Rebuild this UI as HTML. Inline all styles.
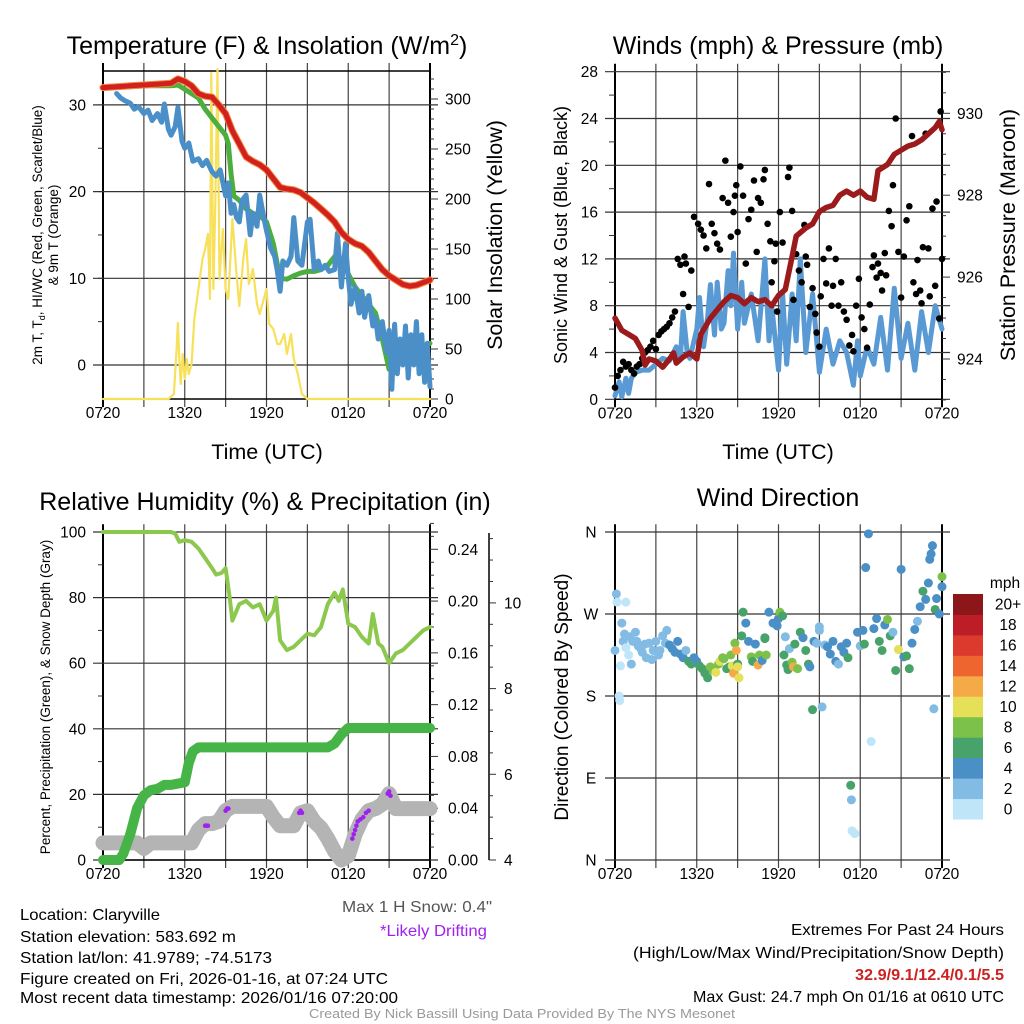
<!DOCTYPE html>
<html><head><meta charset="utf-8"><style>
html,body{margin:0;padding:0;background:#fff;}
svg{display:block;font-family:"Liberation Sans",sans-serif;}
</style></head><body>
<svg id="fig" width="1024" height="1024" viewBox="0 0 1024 1024" xmlns="http://www.w3.org/2000/svg">
<rect x="0" y="0" width="1024" height="1024" fill="#fff"/>
<g font-size="25" text-anchor="middle" fill="#000">
<text x="267" y="54">Temperature (F) &amp; Insolation (W/m<tspan dy="-9" font-size="16">2</tspan><tspan dy="9">)</tspan></text>
<text x="778" y="54">Winds (mph) &amp; Pressure (mb)</text>
<text x="265" y="510">Relative Humidity (%) &amp; Precipitation (in)</text>
<text x="778" y="506">Wind Direction</text>
</g>
<g fill="#000" text-anchor="middle">
<text x="267" y="459" font-size="21.5">Time (UTC)</text>
<text x="778" y="459" font-size="21.5">Time (UTC)</text>
<text transform="translate(42,235) rotate(-90)" font-size="13.5">2m T, T<tspan dy="3" font-size="9">d</tspan><tspan dy="-3">, HI/WC (Red, Green, Scarlet/Blue)</tspan></text>
<text transform="translate(58,235) rotate(-90)" font-size="13.5">&amp; 9m T (Orange)</text>
<text transform="translate(502,235) rotate(-90)" font-size="21.5">Solar Insolation (Yellow)</text>
<text transform="translate(567,235) rotate(-90)" font-size="18">Sonic Wind &amp; Gust (Blue, Black)</text>
<text transform="translate(1015,235) rotate(-90)" font-size="21.5">Station Pressure (Maroon)</text>
<text transform="translate(50,697) rotate(-90)" font-size="13.5">Percent, Precipitation (Green), &amp; Snow Depth (Gray)</text>
<text transform="translate(568,697) rotate(-90)" font-size="19">Direction (Colored By Speed)</text>
</g>
<g font-size="16" fill="#000" lengthAdjust="spacingAndGlyphs">
<text x="20" y="920" textLength="140" lengthAdjust="spacingAndGlyphs">Location: Claryville</text>
<text x="20" y="942" textLength="216" lengthAdjust="spacingAndGlyphs">Station elevation: 583.692 m</text>
<text x="20" y="963" textLength="252" lengthAdjust="spacingAndGlyphs">Station lat/lon: 41.9789; -74.5173</text>
<text x="20" y="984" textLength="368" lengthAdjust="spacingAndGlyphs">Figure created on Fri, 2026-01-16, at 07:24 UTC</text>
<text x="20" y="1003" textLength="378" lengthAdjust="spacingAndGlyphs">Most recent data timestamp: 2026/01/16 07:20:00</text>
<text x="342" y="912" fill="#555" textLength="150" lengthAdjust="spacingAndGlyphs">Max 1 H Snow: 0.4"</text>
<text x="380" y="936" fill="#a020f0" textLength="107" lengthAdjust="spacingAndGlyphs">*Likely Drifting</text>
<text x="791" y="935" textLength="213" lengthAdjust="spacingAndGlyphs">Extremes For Past 24 Hours</text>
<text x="633" y="958" textLength="371" lengthAdjust="spacingAndGlyphs">(High/Low/Max Wind/Precipitation/Snow Depth)</text>
<text x="855" y="980" fill="#cc2222" font-weight="bold" textLength="149" lengthAdjust="spacingAndGlyphs">32.9/9.1/12.4/0.1/5.5</text>
<text x="693" y="1002" textLength="311" lengthAdjust="spacingAndGlyphs">Max Gust: 24.7 mph On 01/16 at 0610 UTC</text>
<text x="309" y="1018" font-size="13" fill="#999" textLength="426" lengthAdjust="spacingAndGlyphs">Created By Nick Bassill Using Data Provided By The NYS Mesonet</text>
</g>
</svg>
<script>
// ---------- DATA ----------
const timeTickLabels = ["0720","1320","1920","0120","0720"];
const tempTickLabels = ["0","10","20","30"];
const tempTickValues = [0,10,20,30];
const solarTickValues = [0,50,100,150,200,250,300];
const windTickValues = [0,4,8,12,16,20,24,28];
const pressureTickValues = [924,926,928,930];
const rhTickValues = [0,20,40,60,80,100];
const precipTickValues = [0,0.04,0.08,0.12,0.16,0.20,0.24];
const snowTickValues = [4,6,8,10];
const dirTickLabels = ["N","E","S","W","N"];
const dirTickValues = [0,90,180,270,360];
const speedBinLabels = ["0","2","4","6","8","10","12","14","16","18","20+"];
const speedBinColors = ["#bfe5f9","#82bbe4","#4a8fc6","#48a36a","#7cc24a","#e6df58","#f5aa48","#ee6530","#dd3a2e","#bd1d27","#8d1619"];

const airTemp = [[0,32],[1,32.1],[2,32.2],[3,32.3],[4,32.4],[5,32.5],[5.5,33],[6,32.7],[6.5,32.2],[7,31.3],[7.5,31],[8,30.9],[8.5,30],[9,29],[9.5,27],[10,25.5],[10.5,24],[11,23.5],[11.5,23.1],[12,22.5],[12.5,21.5],[13,20.5],[13.5,20.3],[14,20.2],[14.5,19.9],[15,19.3],[15.5,18.7],[16,18],[16.5,17.3],[17,16.5],[17.5,15.3],[18,14.5],[18.5,14],[19,13.7],[19.5,13],[20,12],[20.5,11],[21,10.3],[21.5,9.8],[22,9.3],[22.5,9.1],[23,9.2],[23.5,9.5],[24,9.8]];
const dewPoint = [[0,32],[1,32.1],[2,32.1],[3,32.2],[4,32.2],[5,32.2],[5.5,32.3],[6,31.8],[6.5,31.3],[7,30.8],[7.5,29.5],[8,28.5],[8.5,27.5],[9,26.5],[9.2,25.5],[9.4,22],[9.6,19.5],[10,19],[10.5,18],[11,17.5],[11.5,17.2],[12,16.5],[12.5,14],[13,10],[13.5,9.9],[14,10.3],[14.5,10.6],[15,10.8],[15.5,10.8],[16,11],[16.5,11.5],[17,12.5],[17.5,12],[18,10.5],[18.5,9],[19,8],[19.5,7],[20,6],[20.5,3],[21,-0.5],[21.5,0.5],[22,1],[22.5,1.5],[23,1.5],[23.5,2],[24,2.5]];
const windChill = [[1,31.3],[1.3,30.8],[1.6,30.5],[2,30.2],[2.3,29.5],[2.6,29.8],[3,29],[3.3,29.4],[3.6,28.2],[4,29],[4.3,28],[4.5,30.1],[4.8,27.2],[5,26.5],[5.3,27.5],[5.5,29.7],[5.8,25.8],[6,25],[6.3,25.6],[6.6,23.5],[7,23.8],[7.3,23],[7.6,23.6],[8,22.3],[8.3,21.8],[8.6,22.5],[9,19.5],[9.2,21],[9.4,17.5],[9.6,18.5],[9.8,17],[10,16.5],[10.2,19],[10.5,19.6],[10.8,15],[11,17.5],[11.3,16],[11.5,19.6],[11.8,17],[12,15.5],[12.3,13.5],[12.6,12.5],[12.8,10.8],[13,8.5],[13.2,12],[13.5,11.5],[13.8,12.5],[14,17],[14.3,12],[14.6,11.5],[15,16.5],[15.2,16.8],[15.5,11],[15.8,12],[16,11],[16.3,11.5],[16.6,10.8],[17,11],[17.2,15.2],[17.5,9],[17.8,14],[18,10],[18.2,7],[18.5,9],[18.8,6],[19,8.5],[19.2,5.5],[19.5,8],[19.8,4.5],[20,5.5],[20.2,3],[20.5,5],[20.8,1.5],[21,4],[21.2,-2.8],[21.4,4.7],[21.6,-1],[21.8,3],[22,0],[22.2,4.5],[22.4,-1.5],[22.6,3.5],[22.8,0],[23,5],[23.2,-1],[23.4,3.5],[23.6,-2],[23.8,2.5],[24,-2.5]];
const solar = [[0,0],[4.8,0],[5.2,5],[5.4,50],[5.5,76],[5.6,40],[5.7,15],[5.85,45],[6,20],[6.15,40],[6.3,25],[6.5,35],[6.7,80],[7,110],[7.3,140],[7.5,150],[7.7,165],[7.85,100],[7.95,326],[8.1,110],[8.25,200],[8.4,330],[8.55,120],[8.8,170],[9,110],[9.2,100],[9.5,180],[9.8,125],[10,93],[10.3,140],[10.5,160],[10.7,115],[11,130],[11.3,95],[11.5,85],[11.8,100],[12,110],[12.2,75],[12.5,70],[12.8,55],[13,55],[13.3,65],[13.5,45],[13.8,65],[14,40],[14.3,25],[14.6,5],[15,0],[24,0]];

const pressure = [[0,925],[0.5,924.7],[1,924.6],[1.5,924.5],[2,924.2],[2.2,923.85],[2.5,924],[3,923.95],[3.5,923.8],[4,924],[4.3,924.15],[4.5,923.9],[5,924.05],[5.5,924.15],[6,924],[6.3,924.6],[7,925],[7.5,925.2],[8,925.4],[8.5,925.55],[9,925.5],[9.5,925.35],[10,925.5],[10.5,925.4],[11,925.45],[11.5,925.3],[12,925.55],[12.5,925.7],[13,926.5],[13.3,927],[14,927.2],[14.5,927.3],[15,927.6],[15.5,927.7],[16,927.75],[16.5,928],[17,928.1],[17.5,928],[18,928.1],[18.5,927.95],[19,927.9],[19.3,928.6],[20,928.75],[20.5,929],[21,929.1],[21.5,929.2],[22,929.25],[22.5,929.35],[23,929.5],[23.5,929.65],[23.8,929.8],[24,929.6]];
const sustainedWind = [[0,0.3],[0.3,1.5],[0.5,0.2],[0.8,1.8],[1,0.5],[1.2,1.8],[1.5,2.3],[2,2.5],[2.5,2.5],[3,3],[3.5,3.5],[4,3.3],[4.5,4.5],[4.8,3.5],[5,7.5],[5.3,4],[5.5,3.5],[5.8,5],[6,6],[6.2,8.7],[6.5,4.5],[6.8,7],[7,9.8],[7.3,5.5],[7.5,10],[7.8,6],[8,6.5],[8.3,11],[8.5,8],[8.7,12.5],[9,6],[9.3,10],[9.5,6.5],[10,9],[10.5,5],[10.8,9],[11,12],[11.3,5],[11.5,8],[12,2.5],[12.3,9],[12.6,3],[13,9],[13.3,5],[13.6,12],[14,4],[14.5,9],[15,2.3],[15.5,6],[16,3],[16.5,5],[17,4],[17.5,1.2],[17.8,5],[18,2],[18.5,4.5],[19,3],[19.5,7],[20,2.5],[20.5,9.5],[21,3.5],[21.5,6.5],[22,2.5],[22.5,7.5],[23,4],[23.5,8],[24,6]];
const gustHours = [0,0.2,0.4,0.6,0.8,1,1.2,1.4,1.6,1.8,2,2.2,2.4,2.6,2.8,3,3.2,3.4,3.6,3.8,4,4.2,4.4,4.6,4.8,5,5.1,5.2,5.4,5.6,5.8,6.1,6.3,6.5,6.7,6.9,7.1,7.3,7.5,7.7,7.9,8.1,8.3,8.5,8.7,8.8,8.9,9,9.2,9.4,9.6,9.8,10,10.2,10.4,10.5,10.7,10.9,11,11.2,11.4,11.5,11.7,11.8,11.9,12.1,12.3,12.7,12.8,13,13.1,13.3,13.5,13.7,13.9,14,14.1,14.3,14.5,14.7,14.8,15,15.1,15.3,15.5,15.7,15.9,16,16.2,16.4,16.6,16.8,17,17.2,17.4,17.5,17.7,17.9,18.1,18.3,18.5,18.7,18.9,19,19.2,19.3,19.5,19.6,19.8,19.9,20.1,20.3,20.4,20.6,20.8,21,21.2,21.4,21.6,21.8,21.9,22.1,22.2,22.4,22.5,22.6,22.8,23,23.1,23.3,23.5,23.6,23.8,23.9,24];
const gustValues = [1,2,2.5,3.2,2.8,3,2.5,2.2,2.8,3,3.5,4,4.2,4.5,5,4.3,5.5,5.8,6,6.2,6.5,7,7.5,12,11.5,9,12.2,11.6,7.9,11,15.6,15,14.5,14,12.9,18.4,15,14.2,13.3,12.8,17.2,20.4,16.8,13.9,16,17.4,18.3,14.3,19.9,17.4,11.6,15.4,16.2,18.7,12.6,17.2,16.8,18.8,19.6,15,13.5,10,11.8,13.3,7.5,16,13.4,19,19.8,16.1,8.5,12.4,11,10,14.9,12.2,11.5,7.9,9.5,7.3,5.7,4.5,8.8,12,9.9,12.9,8,9.7,12,8,10,7.5,6.8,4.6,5.5,4.1,8,10.3,7,6,4.4,8.1,11.3,12.3,10.4,11.6,10.8,9.3,12.5,10.6,16.1,14.8,18.3,24,12.6,8.7,12.2,15.3,16.5,22.5,10,9,11.9,9.3,8.2,13,22.7,12.9,8.8,16.3,9.7,16.9,6.9,24.6,12,11.3,14.4,12.7,16.9,10.6,16.3,20,12.4];

const relHumidity = [[0,100],[1,100],[2,100],[3,100],[4,100],[5,100],[5.3,99.5],[5.6,97],[6,97.5],[6.5,97],[7,95],[7.5,92],[8,89],[8.3,87],[8.7,87.5],[9,89],[9.3,80],[9.5,73],[10,78],[10.5,79],[11,77],[11.5,78],[12,73],[12.5,76],[12.7,80],[13,67],[13.5,64],[14,65],[14.5,67],[15,69],[15.5,68.5],[16,71],[16.5,78],[17,81.5],[17.3,79],[17.6,82.5],[18,72],[18.5,71],[19,68],[19.5,66],[19.8,75],[20.2,66],[20.5,65],[21,60],[21.5,63],[22,64],[22.5,66],[23,68],[23.5,70],[24,71]];
const precipitation = [[0,0],[1.2,0],[1.5,0.005],[2,0.02],[2.5,0.04],[3,0.05],[3.5,0.054],[4,0.055],[4.5,0.058],[5,0.058],[6,0.06],[6.3,0.075],[6.6,0.084],[7,0.087],[16.5,0.087],[17,0.09],[17.5,0.097],[18,0.102],[24,0.102]];
const snowDepth = [[0,4.4],[2.5,4.4],[3,4.27],[3.5,4.4],[6.5,4.4],[7,4.7],[7.5,4.85],[8,4.85],[8.5,4.9],[9,5.15],[9.5,5.25],[12,5.25],[12.5,5],[13,4.8],[14,4.8],[14.5,5.1],[15,5.15],[15.5,4.9],[16,4.75],[16.5,4.5],[17,4.2],[17.5,4.0],[18,4.1],[18.5,4.6],[19,4.95],[19.5,5.15],[20,5.2],[20.5,5.3],[21,5.55],[21.5,5.2],[24,5.2]];
const driftHours = [7.5,7.6,7.7,9,9.1,9.2,14.4,14.5,14.6,18.3,18.4,18.5,18.6,18.7,18.9,19.1,19.3,19.5,20.9,21,21.1];
const driftValues = [4.8,4.8,4.8,5.15,5.2,5.2,5.1,5.15,5.1,4.5,4.6,4.7,4.8,4.9,4.95,5.0,5.1,5.15,5.55,5.6,5.5];

const dirHours = [0,0.1,0.15,0.3,0.35,0.4,0.5,0.6,0.7,0.8,0.8,1,1.1,1.2,1.3,1.5,1.6,1.7,1.9,2,2.2,2.3,2.5,2.7,2.8,3,3.2,3.3,3.5,3.7,3.8,4,4.2,4.4,4.6,4.8,5,5.2,5.4,5.6,5.8,6,6.2,6.4,6.6,6.8,7,7.2,7.4,7.6,7.7,7.9,8,8.2,8.4,8.5,8.6,8.7,8.8,8.9,9,9,9.1,9.3,9.4,9.6,9.8,10,10.1,10.3,10.5,10.6,10.8,11,11,11.1,11.3,11.6,11.9,12,12.1,12.3,12.4,12.5,12.6,12.7,12.8,13,13.1,13.2,13.4,13.6,13.8,14,14.2,14.3,14.5,14.6,14.8,15,15,15.2,15.4,15.6,15.8,16,16.2,16.4,16.6,16.8,17,17.1,17.3,17.35,17.4,17.6,17.8,18,18.2,18.3,18.4,18.6,18.8,19,19.2,19.4,19.6,19.8,20,20.2,20.4,20.6,20.8,21,21.2,21.4,21.6,21.8,22,22.2,22.4,22.6,22.8,23,23.1,23.2,23.3,23.4,23.5,23.6,23.8,24,24];
const dirDegrees = [230,292,283,180,175,213,260,240,248,233,283,225,245,215,240,250,240,235,232,228,237,222,238,220,230,240,225,230,246,238,252,236,232,228,240,226,222,230,218,215,222,218,213,210,205,200,212,208,206,215,218,222,221,210,212,225,213,205,238,230,215,212,200,246,272,260,240,223,218,237,214,225,219,244,243,225,272,260,257,265,272,268,225,245,214,209,232,217,212,237,210,250,244,230,215,212,165,240,238,256,252,168,236,234,226,240,218,215,234,228,238,222,82,66,32,29,250,235,252,237,321,358,130,254,265,240,230,258,264,246,250,208,231,319,223,224,210,238,253,262,278,295,286,304,330,336,345,166,275,287,270,311,300,277,270];
const dirSpeeds = [2,2,1,1,1,1,2,2,2,1,1,1,2,2,2,2,2,2,2,2,2,2,2,2,2,2,2,2,2,2,2,4,4,4,4,5,5,3,6,6,4,4,6,6,7,7,8,9,10,8,11,9,8,7,7,8,10,13,8,12,7,10,11,7,7,4,5,8,6,5,13,9,5,7,7,8,4,5,4,4,8,6,7,3,6,7,3,9,12,7,8,7,4,6,6,4,6,4,2,2,2,2,3,5,4,4,4,3,4,4,5,7,6,3,1,1,4,2,5,6,4,5,1,4,5,7,6,5,8,7,3,7,10,4,5,7,6,5,4,3,4,6,5,4,4,5,5,3,7,4,4,9,4,4,6,8];

// ---------- HELPERS ----------
const svg = document.getElementById('fig');
const NS = 'http://www.w3.org/2000/svg';
function mk(tag, parent, attrs){
  const e = document.createElementNS(NS, tag);
  for (const k in attrs) e.setAttribute(k, attrs[k]);
  parent.appendChild(e);
  return e;
}
function linePath(pts, xf, yf){
  return pts.map((p,i)=>(i?'L':'M')+xf(p[0]).toFixed(1)+','+yf(p[1]).toFixed(1)).join(' ');
}

const L = {x0:103, x1:430};
const R = {x0:615, x1:942};
const xL = h => L.x0 + h/24*(L.x1-L.x0);
const xR = h => R.x0 + h/24*(R.x1-R.x0);
const yTemp = v => 365 - 8.67*v;
const ySolar = w => 399 - w*1.0;
const yWind = v => 399.3 - 11.7*v;
const yPres = p => 359 - 40.95*(p-924);
const yRH = v => 860 - 3.28*v;
const yPrecip = v => 860 - 1294.6*v;
const ySnow = s => 860 - 42.85*(s-4);
const yDir = d => 860 - 0.9111*d;

function drawFrame(xf, yTop, yBot, panelName){
  const g = mk('g', svg, {});
  
  
  for (let h=0; h<=24; h+=3){
    const ln = mk('line', g, {x1:xf(h), x2:xf(h), y1:yTop-8, y2:yBot+8, stroke:(h===0||h===24)?'#000':'#444', 'stroke-width':(h===0||h===24)?2:1.2});
    
    
  }
  for (let i=0;i<timeTickLabels.length;i++){
    const t = mk('text', g, {x:xf(i*6), y:yBot+19, 'font-size':15.5, 'text-anchor':'middle'});
    t.textContent = timeTickLabels[i];
    
    
  }
  return g;
}
function hGrid(g, panelName, x0, x1, y){
  const ln = mk('line', g, {x1:x0-10, x2:x1+8, y1:y, y2:y, stroke:'#333', 'stroke-width':1.2});
  
  
}
function tickLabel(g, name, x, y, txt, anchor, size){
  const t = mk('text', g, {x:x, y:y+5.5, 'font-size':size||15.5, 'text-anchor':anchor});
  t.textContent = txt;
  
  
}
function tickMark(g, name, x1, x2, y){
  const ln = mk('line', g, {x1:x1, x2:x2, y1:y, y2:y, stroke:'#333', 'stroke-width':1});
  
  
}
function series(parent, name, d, color, width){
  const p = mk('path', parent, {d:d, fill:'none', stroke:color, 'stroke-width':width, 'stroke-linejoin':'round', 'stroke-linecap':'round'});
  
  
  return p;
}

// ---------- PANEL 1: Temperature ----------
{
  const g = drawFrame(xL, 71, 399, 'temperature');
  tempTickValues.forEach((v,i)=>{ hGrid(g,'temperature',L.x0,L.x1,yTemp(v)); tickLabel(g,'temp-y-tick-label',86,yTemp(v),tempTickLabels[i],'end'); });
  for (let v=0; v<=34; v+=5) tickMark(g,'temp-minor-tick',98,103,yTemp(v));
  for (let w=0; w<=320; w+=10) tickMark(g,'solar-minor-tick',430,(w%50===0)?438:434,ySolar(w));
  solarTickValues.forEach(w=> tickLabel(g,'solar-y-tick-label',445,ySolar(w),String(w),'start'));
  const top = mk('line', g, {x1:L.x0, x2:L.x1, y1:71, y2:71, stroke:'#000', 'stroke-width':1.5});
  
  
  const bot = mk('line', g, {x1:L.x0, x2:L.x1, y1:399, y2:399, stroke:'#000', 'stroke-width':1.5});
  
  
  const s = mk('g', svg, {});
  
  
  series(s,'solar-insolation-line',linePath(solar,xL,ySolar),'#f7e05a',2.2);
  series(s,'dew-point-line',linePath(dewPoint,xL,yTemp),'#4cae3e',5);
  series(s,'wind-chill-line',linePath(windChill,xL,yTemp),'#4a8fc8',5);
  series(s,'nine-meter-temp-line',linePath(airTemp,xL,yTemp),'#f08a3a',7);
  series(s,'air-temperature-line',linePath(airTemp,xL,yTemp),'#d21f1f',5);
}

// ---------- PANEL 2: Winds ----------
{
  const g = drawFrame(xR, 71.7, 399.3, 'winds');
  windTickValues.forEach(v=>{ hGrid(g,'winds',R.x0,R.x1,yWind(v)); tickLabel(g,'wind-y-tick-label',598,yWind(v),String(v),'end'); });
  for (let v=2; v<=28; v+=4) tickMark(g,'wind-minor-tick',609,615,yWind(v));
  for (let p=923; p<=931.01; p+=0.5) tickMark(g,'pressure-minor-tick',942,(Math.abs(p%2)<0.01)?950:946,yPres(p));
  pressureTickValues.forEach(p=> tickLabel(g,'pressure-y-tick-label',957,yPres(p),String(p),'start'));
  const bot = mk('line', g, {x1:R.x0, x2:R.x1, y1:399.3, y2:399.3, stroke:'#000', 'stroke-width':1.5});
  
  
  const s = mk('g', svg, {});
  
  
  series(s,'sustained-wind-line',linePath(sustainedWind,xR,yWind),'#5a9ad4',5);
  for (let i=0;i<gustHours.length;i++){
    const c = mk('circle', s, {cx:xR(gustHours[i]), cy:yWind(gustValues[i]), r:3.3, fill:'#000'});
    
    
  }
  series(s,'station-pressure-line',linePath(pressure,xR,yPres),'#9b1a1c',5.5);
}

// ---------- PANEL 3: Humidity ----------
{
  const g = drawFrame(xL, 532.3, 860, 'humidity');
  rhTickValues.forEach(v=>{ hGrid(g,'humidity',L.x0,L.x1,yRH(v)); tickLabel(g,'rh-y-tick-label',86,yRH(v),String(v),'end'); });
  for (let v=10; v<=90; v+=20) tickMark(g,'rh-minor-tick',98,103,yRH(v));
  for (let p=0; p<=0.2601; p+=0.01) tickMark(g,'precip-minor-tick',430,(Math.round(p*100)%4===0)?438:434,yPrecip(p));
  precipTickValues.forEach(p=> tickLabel(g,'precip-y-tick-label',448,yPrecip(p),p.toFixed(2),'start'));
  const ax = mk('line', g, {x1:489, x2:489, y1:533, y2:860, stroke:'#000', 'stroke-width':1.5});
  
  
  for (let s=4; s<=11.6; s+=0.5) tickMark(g,'snow-minor-tick',489,(Math.abs(s%2)<0.01)?496:493,ySnow(s));
  snowTickValues.forEach(s=> tickLabel(g,'snow-y-tick-label',504,ySnow(s),String(s),'start'));
  const bot = mk('line', g, {x1:L.x0, x2:L.x1, y1:860, y2:860, stroke:'#000', 'stroke-width':1.5});
  
  
  const s = mk('g', svg, {});
  
  
  series(s,'snow-depth-line',linePath(snowDepth,xL,ySnow),'#b4b4b4',15);
  series(s,'precipitation-line',linePath(precipitation,xL,yPrecip),'#46b446',10);
  series(s,'relative-humidity-line',linePath(relHumidity,xL,yRH),'#8cc84e',4);
  for (let i=0;i<driftHours.length;i++){
    const c = mk('circle', s, {cx:xL(driftHours[i]), cy:ySnow(driftValues[i]), r:2.3, fill:'#a020f0'});
    
    
  }
}

// ---------- PANEL 4: Wind direction ----------
{
  const g = drawFrame(xR, 532.3, 860, 'direction');
  dirTickValues.forEach((d,i)=>{ hGrid(g,'direction',R.x0,R.x1,yDir(d)); tickLabel(g,'direction-y-tick-label',591,yDir(d),dirTickLabels[i],'middle'); });
  const s = mk('g', svg, {});
  
  
  for (let i=0;i<dirHours.length;i++){
    const idx = Math.min(10, Math.floor(dirSpeeds[i]/2));
    const c = mk('circle', s, {cx:xR(dirHours[i]), cy:yDir(dirDegrees[i]), r:4.5, fill:speedBinColors[idx]});
    
    
  }
  const cb = mk('g', svg, {});
  
  
  const ttl = mk('text', cb, {x:1005, y:588, 'font-size':15.5, 'text-anchor':'middle'});
  ttl.textContent = 'mph';
  
  
  const bh = (819-594)/speedBinColors.length;
  for (let i=0;i<speedBinColors.length;i++){
    const y = 819-(i+1)*bh;
    const r = mk('rect', cb, {x:953, y:y, width:30, height:bh+0.5, fill:speedBinColors[i]});
    
    
    const t = mk('text', cb, {x:1008, y:y+bh/2+5.5, 'font-size':15.5, 'text-anchor':'middle'});
    t.textContent = speedBinLabels[i];
    
    
  }
}
</script>
</body></html>
